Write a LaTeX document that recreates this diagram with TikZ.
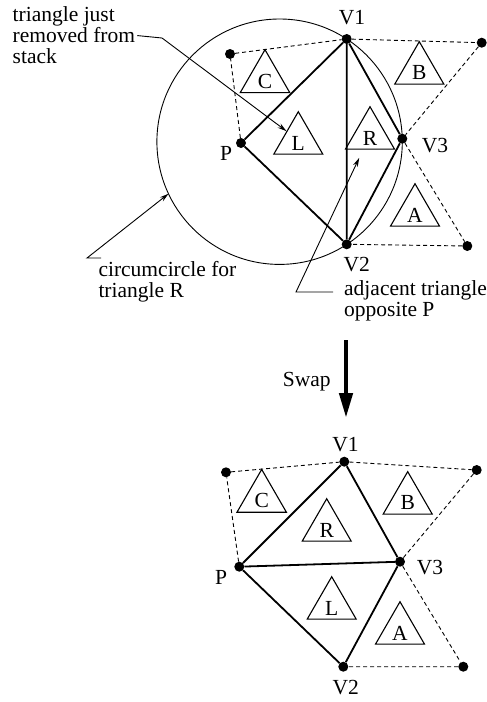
\documentclass[tikz,border=0pt]{standalone}
\usepackage{fontspec}
\setmainfont{Liberation Serif}
\usetikzlibrary{shapes.geometric,arrows.meta,calc}

\begin{document}
\begin{tikzpicture}[x=1pt,y=-1pt,font=\fontsize{21.5}{21}\selectfont,
  pt/.style={circle,fill,inner sep=0pt,minimum size=10pt},
  edge/.style={line width=1.8pt},
  nbr/.style={line width=0.9pt,dash pattern=on 4pt off 3pt},
  tri/.style={draw,regular polygon,regular polygon sides=3,minimum size=49pt,inner sep=0pt,text height=20pt,line width=1.1pt},
  lead/.style={line width=0.9pt},
  lbl/.style={inner sep=0pt}]
\useasboundingbox (0,0) rectangle (487,702);
% before the swap
\foreach \n/\x/\y in {V1/346.7/39,V2/346.7/244.3,V3/402.3/138.7,P/241/143,a/467.3/246,b/481.7/42.7,c/230/54}{\node[pt] (\n) at (\x,\y) {};}
\coordinate (cc) at (279.6,141.7);
\draw[line width=0.9pt] (cc) circle (122.7);
\draw[nbr] (P)--(c)--(V1)--(b)--(V3)--(a)--(V2);
\draw[edge] (P)--(V1)--(V2)--(P) (V1)--(V3)--(V2);
\foreach \n/\x/\y/\t in {lV1/352/18/V1,lV2/356.7/264.5/V2,lV3/435/146/V3,lP/226/153.3/P}{\node[lbl] (\n) at (\x,\y) {\t};}
\foreach \n/\x/\y/\t in {tC/265/78.3/C,tB/419.3/70/B,tL/298.3/140/L,tR/370/135/R,tA/415/212/A}{\node[tri] (\n) at (\x,\y) {\t};}
% leaders
\node[lbl,align=left,anchor=north west] (just) at (12.5,6.8) {triangle just\\removed from\\stack};
\coordinate (k1) at (162,38);
\draw[lead,-{Stealth[length=9pt,width=5pt]}] (just.east) ++(2,0) -- (k1) -- (tL);
\node[lbl,align=left,anchor=north west] (circ) at (98.3,261.3) {circumcircle for\\triangle R};
\coordinate (k2) at (87,258);
\draw[lead,-{Stealth[length=9pt,width=5pt]}] (101,258) -- (k2) -- ($(cc)+(154.9:122.7)$);
\node[lbl,align=left,anchor=north west] (adj) at (344,280.3) {adjacent triangle\\opposite P};
\coordinate (k3) at (296,292);
\draw[lead,-{Stealth[length=9pt,width=5pt]},shorten >=9pt] (333,292) -- (k3) -- (tR);
% swap
\coordinate (s1) at (346,340); \coordinate (s2) at (346,418);
\draw[line width=4.5pt,-{Triangle[length=25pt,width=13pt]}] (s1) -- (s2);
\node[lbl] (swap) at (306.7,381.7) {Swap};
% after the swap
\foreach \n/\x/\y in {W1/344.3/461.7,W2/343.3/666.7,W3/400/561.7,Q/239.3/566.7,a2/463.3/666.7,b2/476.7/470,c2/226/472.3}{\node[pt] (\n) at (\x,\y) {};}
\draw[nbr] (Q)--(c2)--(W1)--(b2)--(W3)--(a2)--(W2);
\draw[edge] (Q)--(W1)--(W3)--(W2)--(Q)--(W3);
\foreach \n/\x/\y/\t in {lW1/345.5/445/V1,lW2/345.8/687.5/V2,lW3/430/568/V3,lQ/221/577/P}{\node[lbl] (\n) at (\x,\y) {\t};}
\foreach \n/\x/\y/\t in {uC/261.7/498/C,uR/326.7/527/R,uB/407.7/500/B,uL/331.7/605/L,uA/400/630/A}{\node[tri] (\n) at (\x,\y) {\t};}
\end{tikzpicture}
\end{document}
